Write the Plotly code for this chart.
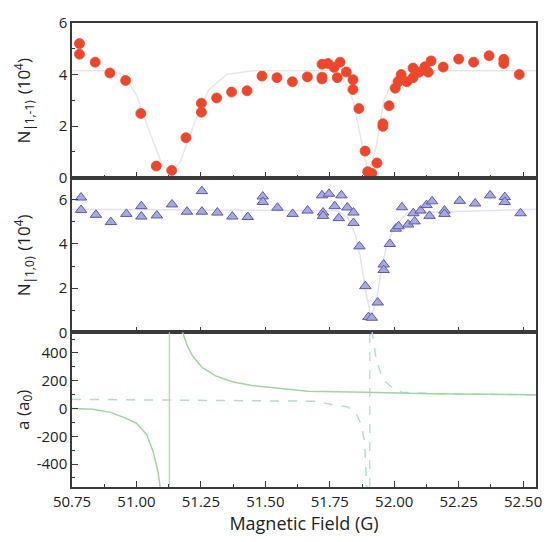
import plotly.graph_objects as go
from plotly.subplots import make_subplots

# ---------------- data ----------------
# Top panel: N|1,-1> (10^4)
b_top = [50.779, 50.779, 50.84, 50.897, 50.958, 51.017, 51.077, 51.137, 51.192, 51.252, 51.252,
         51.311, 51.369, 51.429, 51.487, 51.545, 51.605, 51.663, 51.72, 51.72, 51.72, 51.743,
         51.767, 51.779, 51.79, 51.814, 51.84, 51.84, 51.863, 51.887, 51.897, 51.913, 51.933,
         51.956, 51.956, 51.98, 52.004, 52.015, 52.027, 52.049, 52.073, 52.073, 52.096, 52.119,
         52.132, 52.143, 52.19, 52.25, 52.308, 52.368, 52.425, 52.425, 52.485]
n_top = [5.20, 4.79, 4.48, 4.06, 3.77, 2.49, 0.45, 0.28, 1.55, 2.89, 2.54,
         3.09, 3.32, 3.37, 3.94, 3.88, 3.72, 3.91, 4.40, 3.90, 3.83, 4.43,
         4.28, 3.88, 4.48, 4.10, 3.80, 3.42, 2.68, 1.03, 0.23, 0.17, 0.57,
         2.09, 1.99, 2.79, 3.47, 3.72, 4.00, 3.72, 4.25, 3.88, 4.09, 4.30,
         4.09, 4.53, 4.29, 4.60, 4.48, 4.73, 4.59, 4.43, 4.00]
fit_top_b = [50.75, 50.90, 50.95, 51.00, 51.05, 51.10, 51.13, 51.17, 51.22, 51.28, 51.35, 51.45,
             51.75, 51.80, 51.84, 51.87, 51.90, 51.93, 51.96, 52.00, 52.05, 52.55]
fit_top_n = [4.15, 4.15, 4.0, 3.2, 1.8, 0.5, 0.2, 0.6, 2.0, 3.4, 4.0, 4.15,
             4.15, 3.9, 3.0, 1.5, 0.1, 1.2, 3.0, 3.9, 4.15, 4.15]

# Middle panel: N|1,0> (10^4)
b_mid = [50.785, 50.785, 50.843, 50.901, 50.961, 51.019, 51.019, 51.079, 51.138, 51.196, 51.254,
         51.254, 51.314, 51.372, 51.432, 51.49, 51.49, 51.547, 51.606, 51.664, 51.72, 51.724,
         51.724, 51.747, 51.769, 51.785, 51.795, 51.818, 51.842, 51.842, 51.865, 51.888, 51.90,
         51.913, 51.936, 51.959, 51.959, 51.983, 52.006, 52.017, 52.03, 52.054, 52.074, 52.079,
         52.102, 52.125, 52.137, 52.147, 52.195, 52.195, 52.254, 52.314, 52.372, 52.429, 52.429,
         52.49]
n_mid = [6.10, 5.54, 5.32, 4.99, 5.36, 5.71, 5.24, 5.29, 5.79, 5.46, 6.39,
         5.46, 5.42, 5.24, 5.22, 6.15, 5.90, 5.64, 5.36, 5.51, 6.20, 5.42,
         5.27, 6.27, 5.71, 5.17, 6.20, 5.65, 5.42, 4.95, 3.89, 2.09, 0.69,
         0.66, 1.35, 3.07, 2.82, 4.00, 4.69, 4.80, 5.66, 4.88, 5.39, 5.02,
         5.51, 5.76, 5.27, 5.93, 5.51, 5.36, 5.95, 5.83, 6.20, 6.12, 5.90,
         5.39]
fit_mid_b = [50.75, 51.78, 51.82, 51.85, 51.87, 51.89, 51.91, 51.93, 51.95, 51.97, 52.00, 52.05, 52.55]
fit_mid_n = [5.57, 5.5, 5.2, 4.4, 3.3, 1.8, 0.7, 1.4, 2.8, 3.9, 4.8, 5.4, 5.57]

# Bottom panel: scattering length a (a0)
a_solid_b = [50.75, 50.83, 50.90, 50.96, 51.00, 51.04, 51.064, 51.083, 51.092, None,
             51.176, 51.198, 51.218, 51.256, 51.307, 51.371, 51.448, 51.538, 51.666, 51.885,
             52.14, 52.55]
a_solid = [0, -5, -28, -71, -106, -189, -307, -448, -565, None,
           565, 447, 377, 294, 235, 193, 165, 146, 124, 117, 106, 99]
a_dash_b = [50.75, 51.30, 51.70, 51.756, 51.82, 51.852, 51.872, 51.885, 51.893, None,
            51.913, 51.93, 51.955, 51.99, 52.03, 52.2, 52.55]
a_dash = [66, 60, 52, 28, 11, -33, -118, -236, -565, None,
          565, 355, 212, 153, 117, 104, 99]
resonance_solid = [51.128]
resonance_dash = [51.905]

x_ticks = [50.75, 51.00, 51.25, 51.50, 51.75, 52.00, 52.25, 52.50]
x_ticktext = ["50.75", "51.00", "51.25", "51.50", "51.75", "52.00", "52.25", "52.50"]
n_ticks = [0, 2, 4, 6]
a_ticks = [-400, -200, 0, 200, 400]
a_ticktext = ["-400", "-200", "0", "200", "400"]

# ---------------- figure ----------------
FONT = "Open Sans"
AX = "#3a3a3a"
fig = make_subplots(rows=3, cols=1, shared_xaxes=True, vertical_spacing=0)

fig.add_trace(go.Scatter(x=fit_top_b, y=fit_top_n, mode="lines",
                         line=dict(color="#ebe6e6", width=1.5), showlegend=False), 1, 1)
fig.add_trace(go.Scatter(x=b_top, y=n_top, mode="markers",
                         marker=dict(size=10, color="#f0452b",
                                     line=dict(color="#e0502f", width=0.8)),
                         showlegend=False), 1, 1)

fig.add_trace(go.Scatter(x=fit_mid_b, y=fit_mid_n, mode="lines",
                         line=dict(color="#e2e2f2", width=1.5), showlegend=False), 2, 1)
fig.add_trace(go.Scatter(x=b_mid, y=n_mid, mode="markers",
                         marker=dict(size=10, symbol="triangle-up", color="#a8a8e2",
                                     line=dict(color="#5a5aa8", width=1)),
                         showlegend=False), 2, 1)

for xv in resonance_solid:
    fig.add_trace(go.Scatter(x=[xv, xv], y=[-565, 548], mode="lines",
                             line=dict(color="#a8dca8", width=1.3), showlegend=False), 3, 1)
for xv in resonance_dash:
    fig.add_trace(go.Scatter(x=[xv, xv], y=[-565, 548], mode="lines",
                             line=dict(color="#b8e0c8", width=1.3, dash="dash"),
                             showlegend=False), 3, 1)
fig.add_trace(go.Scatter(x=a_dash_b, y=a_dash, mode="lines", connectgaps=False,
                         line=dict(color="#b4dccb", width=1.5, dash="dash"),
                         showlegend=False), 3, 1)
fig.add_trace(go.Scatter(x=a_solid_b, y=a_solid, mode="lines", connectgaps=False,
                         line=dict(color="#9fd69f", width=1.5), showlegend=False), 3, 1)

common_x = dict(range=[50.75, 52.55], tickvals=x_ticks, ticktext=x_ticktext,
                ticks="inside", ticklen=6, tickcolor=AX, tickwidth=1.3,
                minor=dict(dtick=0.125, tick0=50.75, ticks="inside", ticklen=3, tickcolor=AX),
                showline=True, linecolor=AX, linewidth=1.5, mirror=True,
                showgrid=False, zeroline=False,
                tickfont=dict(family=FONT, size=15, color="#222"))
for r in (1, 2, 3):
    fig.update_xaxes(row=r, col=1, **common_x)
fig.update_xaxes(row=1, col=1, showticklabels=False)
fig.update_xaxes(row=2, col=1, showticklabels=False)
fig.update_xaxes(row=3, col=1,
                 title=dict(text="Magnetic Field (G)", font=dict(family=FONT, size=18, color="#222"),
                            standoff=7))

common_y = dict(ticks="inside", ticklen=6, tickcolor=AX, tickwidth=1.3,
                showline=True, linecolor=AX, linewidth=1.5, mirror=True,
                showgrid=False, zeroline=False,
                tickfont=dict(family=FONT, size=15, color="#222"))
fig.update_yaxes(row=1, col=1, range=[0, 6], tickvals=n_ticks,
                 minor=dict(dtick=1, ticks="inside", ticklen=3, tickcolor=AX), **common_y)
fig.update_yaxes(row=2, col=1, range=[0, 7], tickvals=n_ticks,
                 minor=dict(dtick=1, ticks="inside", ticklen=3, tickcolor=AX), **common_y)
fig.update_yaxes(row=3, col=1, range=[-565, 548], tickvals=a_ticks, ticktext=a_ticktext,
                 minor=dict(dtick=100, tick0=0, ticks="inside", ticklen=3, tickcolor=AX), **common_y)

titles = [("N<sub>|1,-1⟩</sub> (10<sup>4</sup>)", 5 / 6),
          ("N<sub>|1,0⟩</sub> (10<sup>4</sup>)", 0.5),
          ("a (a<sub>0</sub>)", 1 / 6)]
for txt, yp in titles:
    fig.add_annotation(text=txt, xref="paper", yref="paper", x=-0.105, y=yp,
                       textangle=-90, showarrow=False, xanchor="center", yanchor="middle",
                       font=dict(family=FONT, size=17, color="#222"))

fig.update_layout(width=554, height=542, margin=dict(l=72, r=14, t=14, b=54),
                  plot_bgcolor="white", paper_bgcolor="white")

fig.write_html("out.html")
